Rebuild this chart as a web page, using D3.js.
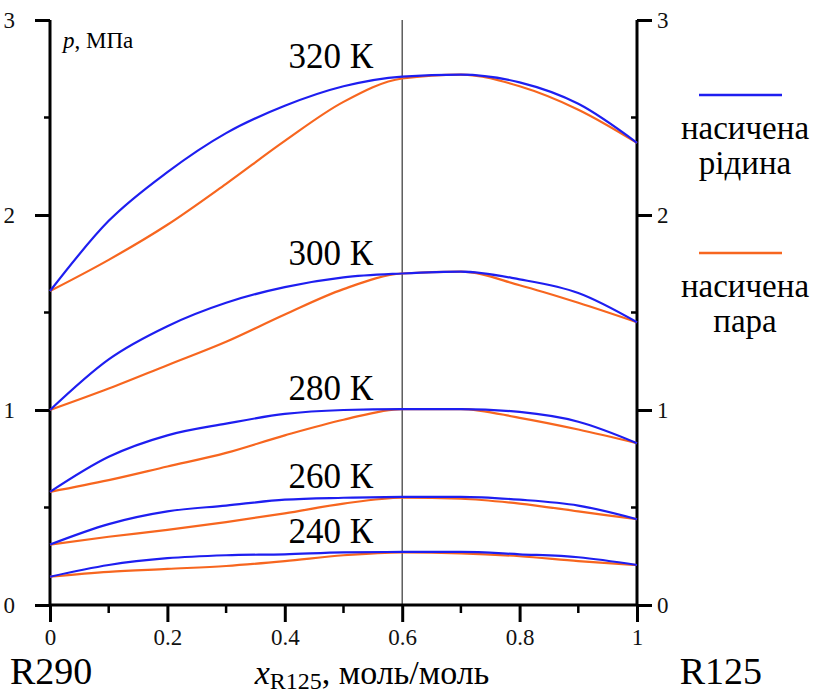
<!DOCTYPE html>
<html>
<head>
<meta charset="utf-8">
<script src="https://cdn.jsdelivr.net/npm/d3@7"></script>
<style>
  body { margin: 0; background: #fff; }
</style>
</head>
<body>
<div id="chart"></div>
<script>
// composition of R125 (mole fraction), same for every isotherm
const xs = [0, 0.1, 0.2, 0.3, 0.4, 0.5, 0.6, 0.7, 0.8, 0.9, 1];
const temps = ['320 К', '300 К', '280 К', '260 К', '240 К'];

// saturated liquid (bubble line), MPa
const liquid320 = [1.61, 1.97, 2.22, 2.42, 2.56, 2.66, 2.71, 2.72, 2.68, 2.57, 2.37];
const liquid300 = [1.00, 1.26, 1.43, 1.55, 1.63, 1.68, 1.70, 1.71, 1.67, 1.60, 1.45];
const liquid280 = [0.58, 0.76, 0.87, 0.93, 0.98, 1.00, 1.005, 1.005, 0.99, 0.94, 0.83];
const liquid260 = [0.31, 0.415, 0.48, 0.51, 0.54, 0.55, 0.555, 0.555, 0.54, 0.51, 0.44];
const liquid240 = [0.145, 0.205, 0.24, 0.255, 0.26, 0.27, 0.272, 0.272, 0.26, 0.245, 0.205];

// saturated vapour (dew line), MPa
const vapour320 = [1.61, 1.77, 1.95, 2.16, 2.38, 2.58, 2.70, 2.72, 2.66, 2.54, 2.37];
const vapour300 = [1.00, 1.11, 1.23, 1.35, 1.49, 1.62, 1.70, 1.71, 1.64, 1.55, 1.45];
const vapour280 = [0.58, 0.64, 0.71, 0.78, 0.87, 0.95, 1.005, 1.005, 0.96, 0.90, 0.83];
const vapour260 = [0.31, 0.35, 0.385, 0.425, 0.47, 0.52, 0.55, 0.545, 0.52, 0.48, 0.44];
const vapour240 = [0.145, 0.17, 0.185, 0.20, 0.225, 0.255, 0.27, 0.265, 0.25, 0.225, 0.205];

const liquid = [liquid320, liquid300, liquid280, liquid260, liquid240];
const vapour = [vapour320, vapour300, vapour280, vapour260, vapour240];

const xTicks = [0, 0.2, 0.4, 0.6, 0.8, 1];
const xTickLabels = ['0', '0.2', '0.4', '0.6', '0.8', '1'];
const yTicks = [0, 1, 2, 3];
const azeoX = 0.6;

const width = 813, height = 695;
const blue = '#1e1ef0', orange = '#f7661f';
const serif = 'Liberation Serif';

const svg = d3.select('#chart').append('svg')
    .attr('width', width).attr('height', height)
    .attr('font-family', serif);

const x = d3.scaleLinear().domain([0, 1]).range([50, 637]);
const y = d3.scaleLinear().domain([0, 3]).range([605, 20]);

// vertical guide through azeotrope composition
svg.append('line')
    .attr('x1', x(azeoX)).attr('x2', x(azeoX))
    .attr('y1', y(3)).attr('y2', y(0))
    .attr('stroke', '#444').attr('stroke-width', 1.3);

// axes
const leftAxis = d3.axisLeft(y).tickValues(yTicks).tickFormat(d3.format('d')).tickSize(15).tickPadding(20);
const rightAxis = d3.axisRight(y).tickValues(yTicks).tickFormat(d3.format('d')).tickSize(15).tickPadding(5);
const bottomAxis = d3.axisBottom(x).tickValues(xTicks).tickFormat((d, i) => xTickLabels[i]).tickSize(17).tickPadding(6);

function styleAxis(g) {
  g.attr('font-family', serif).attr('font-size', 23);
  g.select('.domain').attr('stroke', '#000').attr('stroke-width', 3);
  g.selectAll('.tick line').attr('stroke', '#000').attr('stroke-width', 3);
  g.selectAll('.tick text').attr('fill', '#111');
}

svg.append('g').attr('transform', `translate(${x(0)},0)`).call(leftAxis).call(styleAxis)
   .call(g => g.select('.domain').attr('d', `M0,${y(0)}V${y(3)}`));
svg.append('g').attr('transform', `translate(${x(1)},0)`).call(rightAxis).call(styleAxis)
   .call(g => g.select('.domain').attr('d', `M0,${y(0)}V${y(3)}`));
const bx = svg.append('g').attr('transform', `translate(0,${y(0)})`).call(bottomAxis).call(styleAxis)
   .call(g => g.select('.domain').attr('d', `M${x(0)},0H${x(1)}`));
bx.selectAll('.tick text').attr('dy', '0.75em');

// minor ticks
const minorX = [0.1, 0.3, 0.5, 0.7, 0.9];
const minorY = [0.5, 1.5, 2.5];
svg.append('g').selectAll('line').data(minorX).join('line')
    .attr('x1', d => x(d)).attr('x2', d => x(d))
    .attr('y1', y(0)).attr('y2', y(0) + 8)
    .attr('stroke', '#000').attr('stroke-width', 2.5);
svg.append('g').selectAll('line').data(minorY).join('line')
    .attr('x1', x(0) - 6).attr('x2', x(0))
    .attr('y1', d => y(d)).attr('y2', d => y(d))
    .attr('stroke', '#000').attr('stroke-width', 2.5);
svg.append('g').selectAll('line').data(minorY).join('line')
    .attr('x1', x(1) - 6).attr('x2', x(1))
    .attr('y1', d => y(d)).attr('y2', d => y(d))
    .attr('stroke', '#000').attr('stroke-width', 2.5);

// curves
const line = d3.line()
    .x((d, i) => x(xs[i]))
    .y(d => y(d))
    .curve(d3.curveMonotoneX);

svg.append('g').selectAll('path').data(vapour).join('path')
    .attr('d', line).attr('fill', 'none')
    .attr('stroke', orange).attr('stroke-width', 2.2);
svg.append('g').selectAll('path').data(liquid).join('path')
    .attr('d', line).attr('fill', 'none')
    .attr('stroke', blue).attr('stroke-width', 2.2);

// isotherm labels, right aligned a bit left of the guide line
svg.append('g').selectAll('text').data(temps).join('text')
    .attr('x', 373)
    .attr('y', (d, i) => y(liquid[i][6]) - 9)
    .attr('text-anchor', 'end')
    .attr('font-size', 35)
    .text(d => d);

// axis titles
svg.append('text').attr('x', 63).attr('y', 48).attr('font-size', 23)
    .call(t => {
      t.append('tspan').attr('font-style', 'italic').text('p');
      t.append('tspan').text(', МПа');
    });

const xt = svg.append('text').attr('x', 372).attr('y', 684).attr('text-anchor', 'middle').attr('font-size', 34);
xt.append('tspan').attr('font-style', 'italic').text('x');
xt.append('tspan').attr('font-size', 24).attr('dy', 5).text('R125');
xt.append('tspan').attr('dy', -5).text(', моль/моль');

svg.append('text').attr('x', 10).attr('y', 684).attr('font-size', 38).text('R290');
svg.append('text').attr('x', 762).attr('y', 684).attr('text-anchor', 'end').attr('font-size', 38).text('R125');

// legend
const legend = [
  { color: blue, lines: ['насичена', 'рідина'], y: 95 },
  { color: orange, lines: ['насичена', 'пара'], y: 253 }
];
const lg = svg.append('g').selectAll('g').data(legend).join('g');
lg.append('line')
    .attr('x1', 699).attr('x2', 782)
    .attr('y1', d => d.y).attr('y2', d => d.y)
    .attr('stroke', d => d.color).attr('stroke-width', 2.5);
lg.each(function(d) {
  d3.select(this).selectAll('text').data(d.lines).join('text')
    .attr('x', 745)
    .attr('y', (s, i) => d.y + 44 + i * 35)
    .attr('text-anchor', 'middle')
    .attr('font-size', 33)
    .text(s => s);
});

svg.selectAll('text').attr('font-family', serif).style('font-family', serif);
</script>
</body>
</html>
